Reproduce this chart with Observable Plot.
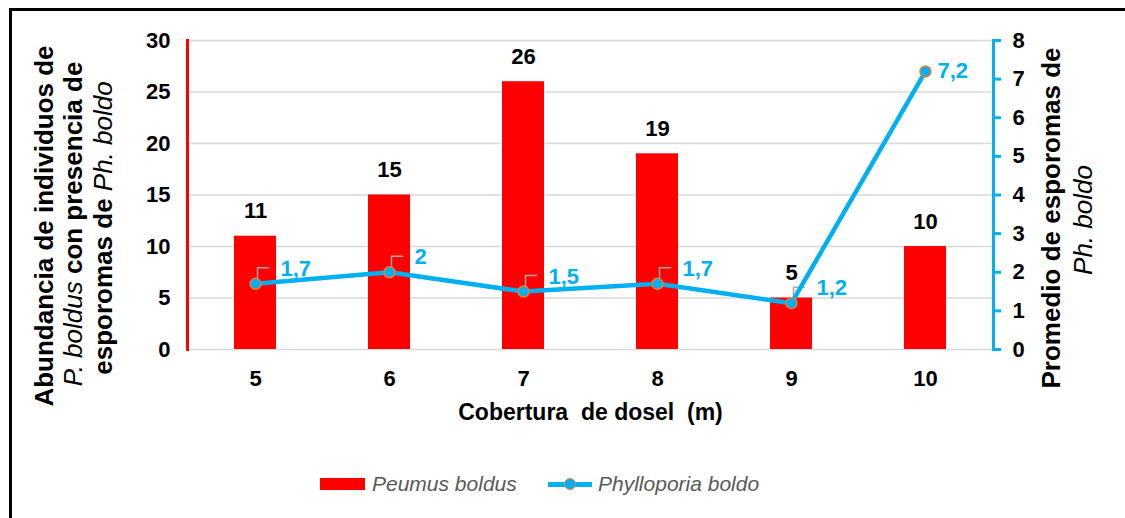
<!DOCTYPE html>
<html>
<head>
<meta charset="utf-8">
<script src="https://cdn.jsdelivr.net/npm/d3@7"></script>
<script src="https://cdn.jsdelivr.net/npm/@observablehq/plot@0.6"></script>
<style>
  body { margin: 0; background: #fff; font-family: "Liberation Sans", Arial, sans-serif; }
  #wrap { position: relative; width: 1125px; height: 518px; overflow: hidden; }
  #border { position: absolute; left: 9px; top: 8px; width: 1300px; height: 700px;
            border-left: 3px solid #000; border-top: 3px solid #000; pointer-events: none; z-index: 5; }
  #legend { position: relative; width: 1125px; height: 78px; }
  .lg { position: absolute; }
  .lgtext { font-style: italic; color: #595959; font-size: 21px; line-height: 24px; }
</style>
</head>
<body>
<div id="wrap">
  <div id="border"></div>
  <div id="chart"></div>
  <div id="legend"></div>
</div>
<script>
const categories = [5, 6, 7, 8, 9, 10];
const peumusBoldus = [11, 15, 26, 19, 5, 10];
const phylloporiaBoldo = [1.7, 2, 1.5, 1.7, 1.2, 7.2];
const leftTicks = [0, 5, 10, 15, 20, 25, 30];
const rightTicks = [0, 1, 2, 3, 4, 5, 6, 7, 8];
const seriesNames = ["Peumus boldus", "Phylloporia boldo"];

const RED = "#ff0000", BLUE = "#00b0f0", ORANGE = "#ed7d31";
const ratio = 30 / 8; // secondary axis (0–8) mapped onto primary (0–30)
const data = categories.map((c, i) => ({c, bars: peumusBoldus[i], spores: phylloporiaBoldo[i], last: i === categories.length - 1}));
const comma = v => String(v).replace(".", ",");
const ys = d => d.spores * ratio;

const plot = Plot.plot({
  width: 1125, height: 440,
  marginLeft: 187, marginRight: 132, marginTop: 40, marginBottom: 91,
  x: {type: "band", domain: categories, paddingInner: 0.69, paddingOuter: 0.345},
  y: {domain: [0, 30]},
  style: {fontFamily: "'Liberation Sans', Arial, sans-serif", fontSize: "22px", fontWeight: "bold", color: "#000", background: "transparent", overflow: "visible"},
  marks: [
    Plot.gridY({ticks: leftTicks, stroke: "#d9d9d9", strokeOpacity: 1, strokeWidth: 1.5}),
    Plot.barY(data, {x: "c", y: "bars", fill: RED}),
    Plot.frame({anchor: "left", stroke: RED, strokeWidth: 3}),
    Plot.frame({anchor: "right", stroke: BLUE, strokeWidth: 3}),
    Plot.axisY({anchor: "left", ticks: leftTicks, tickSize: 0, tickPadding: 17, fill: "#000", label: null}),
    Plot.axisY({anchor: "right", ticks: rightTicks.map(d => d * ratio), tickFormat: d => String(Math.round(d / ratio)),
      tickSize: 7, tickPadding: 12, stroke: BLUE, strokeWidth: 3, fill: "#000", label: null}),
    Plot.axisX({tickSize: 0, tickPadding: 21, label: null}),
    Plot.text(data, {x: "c", y: "bars", text: "bars", lineAnchor: "bottom", dy: -18, fill: "#000", fontSize: 22}),
    Plot.vector(data.filter(d => !d.last), {x: "c", y: ys, length: 11, anchor: "start", stroke: "#a6a6a6", strokeWidth: 1.5,
      shape: {draw(ctx, l) { ctx.moveTo(2, -5); ctx.lineTo(2, -5 - l); ctx.lineTo(2 + l, -5 - l); }}}),
    Plot.lineY(data, {x: "c", y: ys, stroke: BLUE, strokeWidth: 4.5}),
    Plot.dot(data, {x: "c", y: ys, r: 5.5, fill: BLUE, stroke: ORANGE, strokeWidth: 1.5}),
    Plot.text(data.filter(d => !d.last), {x: "c", y: ys, text: d => comma(d.spores), textAnchor: "start", dx: 25, dy: -15, fill: BLUE, fontSize: 22}),
    Plot.text(data.filter(d => d.last), {x: "c", y: ys, text: d => comma(d.spores), textAnchor: "start", dx: 12, dy: 0, fill: BLUE, fontSize: 22}),
    Plot.text(["Cobertura  de dosel  (m)"], {frameAnchor: "bottom", dy: 70, fill: "#000", fontSize: 23})
  ]
});
document.getElementById("chart").appendChild(plot);

// Axis titles with mixed italic spans
const svg = d3.select(plot);
function vtitle(x, y, parts) {
  const t = svg.append("text")
    .attr("transform", `translate(${x},${y}) rotate(-90)`)
    .attr("text-anchor", "middle")
    .attr("font-size", 26)
    .attr("fill", "#000");
  parts.forEach(([s, it]) => {
    t.append("tspan").text(s)
      .attr("font-style", it ? "italic" : "normal")
      .attr("font-weight", it ? "normal" : "bold");
  });
}
vtitle(53, 226, [["Abundancia de individuos de", false]]);
vtitle(82, 224, [["P. boldus", true], [" con presencia de", false]]);
vtitle(112, 228, [["esporomas de ", false], ["Ph. boldo", true]]);
vtitle(1060, 218, [["Promedio de esporomas de", false]]);
vtitle(1092, 220, [["Ph. boldo", true]]);

// Legend
const lg = document.getElementById("legend");
lg.innerHTML = `
  <div class="lg" style="left:320px;top:38px;width:45px;height:12px;background:${RED}"></div>
  <div class="lg lgtext" style="left:372px;top:32px">${seriesNames[0]}</div>
  <div class="lg" style="left:548px;top:42px;width:44px;height:5px;background:${BLUE}"></div>
  <div class="lg" style="left:564px;top:38px;width:10px;height:10px;border-radius:50%;background:${BLUE};border:1.5px solid ${ORANGE}"></div>
  <div class="lg lgtext" style="left:598px;top:32px">${seriesNames[1]}</div>
`;
</script>
</body>
</html>
